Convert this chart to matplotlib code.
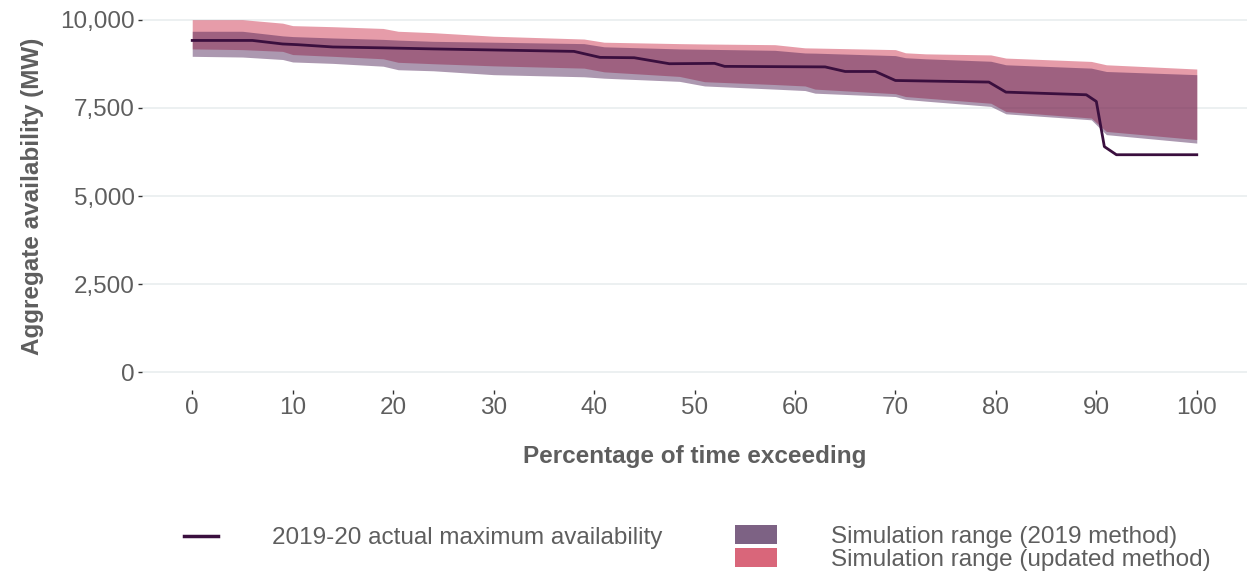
import matplotlib
matplotlib.use("Agg")
import matplotlib.pyplot as plt
from matplotlib.lines import Line2D
from matplotlib.patches import Patch
from matplotlib.ticker import FuncFormatter

plt.rcParams["font.family"] = ["Liberation Sans", "DejaVu Sans"]

# Simulated availability ranges (MW) by percentage of time exceeded
pct_band = [0, 5, 9, 10, 14, 19, 20.5, 24, 30, 39, 41, 48.5, 51, 58, 61, 62,
            70, 71, 73, 79.5, 81, 89.5, 91, 100]
updated_hi = [10000, 10000, 9900, 9830, 9800, 9750, 9670, 9630, 9530, 9450, 9360, 9320,
              9310, 9290, 9200, 9195, 9150, 9060, 9030, 9000, 8910, 8815, 8720, 8600]
updated_lo = [9170, 9150, 9100, 9010, 8960, 8890, 8790, 8750, 8690, 8625, 8520, 8390,
              8240, 8160, 8120, 8030, 7900, 7820, 7775, 7630, 7395, 7210, 6830, 6600]
old_hi = [9670, 9670, 9540, 9520, 9480, 9440, 9420, 9385, 9360, 9320, 9230, 9170,
          9160, 9130, 9055, 9050, 8980, 8920, 8890, 8820, 8720, 8625, 8530, 8440]
old_lo = [8960, 8940, 8870, 8800, 8760, 8680, 8580, 8550, 8440, 8380, 8340, 8250,
          8120, 8030, 7990, 7915, 7820, 7740, 7690, 7540, 7330, 7160, 6740, 6500]

# Actual 2019-20 maximum availability duration curve
pct_actual = [0, 6, 9, 10.5, 14, 19, 24, 38, 40.6, 44, 47.5, 52, 53, 63, 65, 68,
              70, 79.3, 81, 89, 90, 90.8, 92, 100]
actual = [9410, 9410, 9310, 9290, 9225, 9200, 9170, 9100, 8930, 8920, 8750, 8760,
          8675, 8660, 8530, 8530, 8275, 8230, 7945, 7870, 7680, 6400, 6170, 6170]

x_ticks = [0, 10, 20, 30, 40, 50, 60, 70, 80, 90, 100]
y_ticks = [0, 2500, 5000, 7500, 10000]

labels = ["2019-20 actual maximum availability",
          "Simulation range (2019 method)",
          "Simulation range (updated method)"]

c_line = "#3A0F3E"
c_old = "#471B50"      # band fill (drawn translucent)
c_new = "#C92441"
c_old_key = "#7D6284"  # legend swatches
c_new_key = "#D9667A"
c_text = "#5E5E5E"
c_grid = "#E9EDEF"
band_alpha = 0.45
fs = 17.5

W, H = 1247, 575
fig = plt.figure(figsize=(W / 100, H / 100), dpi=100)
ax = fig.add_axes([142 / W, 1 - 390 / H, (1247 - 142) / W, (390 - 2) / H])

ax.fill_between(pct_band, updated_lo, updated_hi, color=c_new, alpha=band_alpha, lw=0)
ax.fill_between(pct_band, old_lo, old_hi, color=c_old, alpha=band_alpha, lw=0)
ax.plot(pct_actual, actual, color=c_line, lw=2.0, solid_joinstyle="round")

ax.set_xlim(-5, 105)
ax.set_ylim(-500, 10500)
ax.set_xticks(x_ticks)
ax.set_yticks(y_ticks)
ax.yaxis.set_major_formatter(FuncFormatter(lambda v, p: f"{int(v):,}"))
ax.grid(axis="y", color=c_grid, lw=1.2)
ax.grid(axis="x", visible=False)
ax.set_axisbelow(True)
for s in ax.spines.values():
    s.set_visible(False)
ax.tick_params(axis="both", colors="#333333", labelcolor=c_text, labelsize=fs,
               length=3, width=1, pad=2)

ax.set_xlabel("Percentage of time exceeding", fontsize=fs, fontweight="bold",
              color=c_text, labelpad=19)
ax.set_ylabel("Aggregate availability (MW)", fontsize=fs, fontweight="bold",
              color=c_text, labelpad=12)

h_line = [Line2D([], [], color=c_line, lw=2.5)]
fig.legend(h_line, labels[:1], loc="center left",
           bbox_to_anchor=(184 / W, 1 - 538 / H), frameon=False,
           fontsize=fs, handlelength=1.4, handletextpad=2.2,
           borderpad=0, borderaxespad=0, labelcolor=c_text)
h_band = [Patch(facecolor=c_old_key, edgecolor="none"),
          Patch(facecolor=c_new_key, edgecolor="none")]
fig.legend(h_band, labels[1:], loc="center left",
           bbox_to_anchor=(735 / W, 1 - 548 / H), frameon=False,
           fontsize=fs, handlelength=1.73, handleheight=0.85,
           handletextpad=2.2, labelspacing=0.0,
           borderpad=0, borderaxespad=0, labelcolor=c_text)

fig.savefig("out.png", dpi=100, facecolor="white")
